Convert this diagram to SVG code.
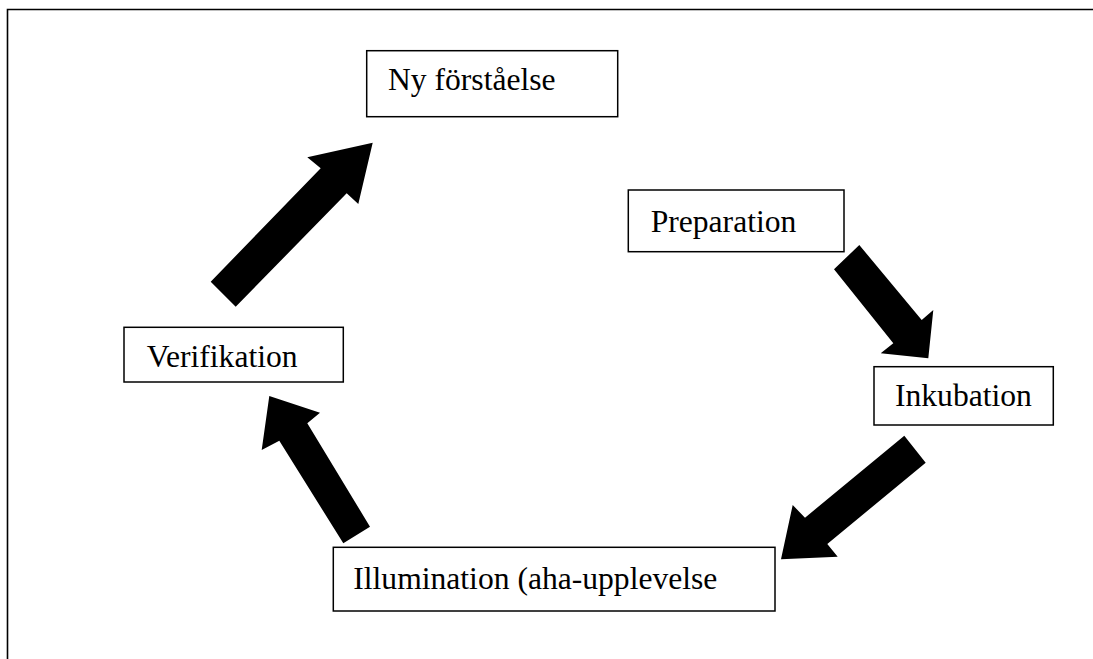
<svg xmlns="http://www.w3.org/2000/svg" width="1093" height="659" viewBox="0 0 1093 659">
<style>
.box{fill:#fff;stroke:#000;stroke-width:1.5}
.lbl{font-family:"Liberation Serif","Times New Roman",serif;font-size:31.6px;fill:#000}
.arrow{fill:#000;stroke:none}
.frame{stroke:#000;stroke-width:1.6;fill:none}
</style>
<rect width="1093" height="659" fill="#fff"/>
<path class="frame" d="M7.5,659 V9.5 H1093"/>
<g id="connectors">
<polygon class="arrow" points="210.7,281.7 320.7,168.3 307.3,157.3 372.7,142.7 358.3,204 346.7,193.3 235.7,306.7"/>
<polygon class="arrow" points="834,269.3 859.3,245 921.7,320 933.3,310 928.3,358.3 880.7,353.3 893.3,343.3"/>
<polygon class="arrow" points="904.3,435.7 925.7,462.7 827.3,544 837.7,556.7 781,559.3 792.7,505 805,517.7"/>
<polygon class="arrow" points="370,526.7 343.3,543.3 279.3,440.7 261.7,450 269.3,396 320,412.7 307.3,423.3"/>
</g>
<g id="ny-forstaelse">
<rect class="box" x="366.7" y="50.7" width="251" height="66"/>
<text class="lbl" x="388" y="90">Ny förståelse</text>
</g>
<g id="preparation">
<rect class="box" x="628.3" y="190" width="215.7" height="61.7"/>
<text class="lbl" x="650.7" y="231.7">Preparation</text>
</g>
<g id="inkubation">
<rect class="box" x="874" y="366.7" width="179.3" height="58.3"/>
<text class="lbl" x="895" y="406">Inkubation</text>
</g>
<g id="illumination">
<rect class="box" x="333.3" y="547.3" width="441.7" height="63.7"/>
<text class="lbl" x="353.3" y="589.3">Illumination (aha-upplevelse</text>
</g>
<g id="verifikation">
<rect class="box" x="124" y="327.3" width="219.3" height="54.7"/>
<text class="lbl" x="146.7" y="366.7">Verifikation</text>
</g>
</svg>
